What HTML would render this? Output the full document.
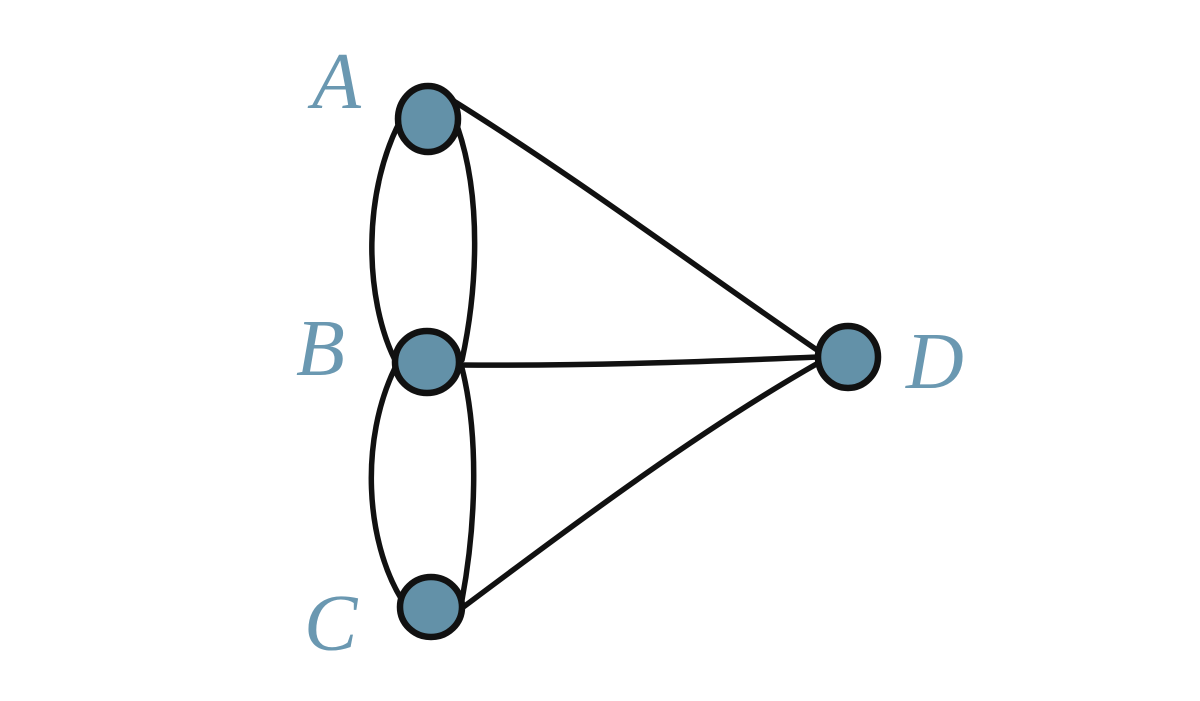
<!DOCTYPE html>
<html><head><meta charset="utf-8"><style>
html,body{margin:0;padding:0;background:#fff;}
svg{display:block;}
text{font-family:"Liberation Serif",serif;font-style:italic;fill:#6a98b1;}
</style></head><body>
<svg width="1200" height="701" viewBox="0 0 1200 701" xmlns="http://www.w3.org/2000/svg">
<g fill="none" stroke="#111" stroke-width="5.5" stroke-linecap="round">
<path d="M405 112 C360 190 365 300 395 360"/>
<path d="M455 120 C485 200 475 300 462 360"/>
<path d="M395 368 C360 440 365 540 402 600"/>
<path d="M462 368 C480 440 475 530 462 600"/>
<path d="M452 100 C580 180 700 270 820 352"/>
<path d="M460 365 C580 366 700 362 818 357"/>
<path d="M462 608 C580 520 700 430 820 362"/>
</g>
<g fill="#6391a8" stroke="#111" stroke-width="6.5">
<ellipse cx="428" cy="119" rx="30" ry="33"/>
<ellipse cx="427" cy="362" rx="32" ry="31"/>
<ellipse cx="431" cy="607" rx="31" ry="30"/>
<ellipse cx="848" cy="357" rx="30" ry="31"/>
</g>
<text x="312" y="108" font-size="80">A</text>
<text x="296" y="375" font-size="80">B</text>
<text x="304" y="650" font-size="80">C</text>
<text x="906" y="388" font-size="80">D</text>
</svg>
</body></html>
